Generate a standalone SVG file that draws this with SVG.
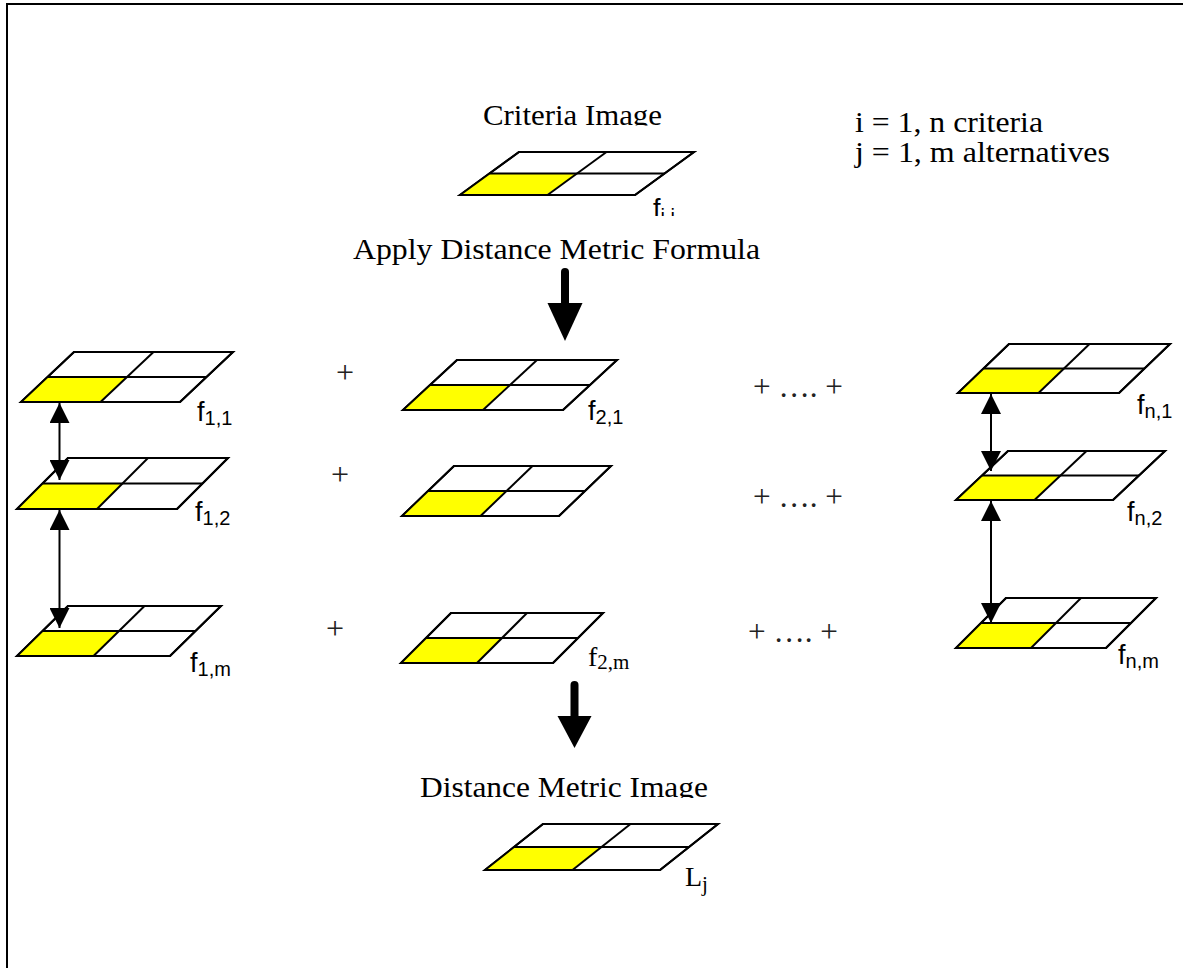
<svg xmlns="http://www.w3.org/2000/svg" width="1185" height="968" viewBox="0 0 1185 968">
  <style>
    .cell { fill: #ffffff; stroke: #000; stroke-width: 2; stroke-linejoin: miter; }
    .frame { fill: none; stroke: #000; stroke-width: 2; }
    .hl { fill: #ffff00; stroke: none; }
    .ln { stroke: #000; stroke-width: 2; fill: none; }
    .serif { font-family: "Liberation Serif", "Times New Roman", serif; font-size: 30px; fill: #000; }
    .sans { font-family: "Liberation Sans", Arial, sans-serif; font-size: 27px; fill: #000; }
    .sub { font-size: 20px; }
    .plus { font-family: "Liberation Serif", "Times New Roman", serif; font-size: 32px; fill: #222; }
    .conn { stroke: #000; stroke-width: 2; fill: none; }
    .big { stroke: #000; stroke-width: 8; stroke-linecap: round; fill: none; }
  </style>
  <defs>
    <marker id="head" viewBox="0 0 20 20" refX="20" refY="10" markerWidth="20" markerHeight="20" markerUnits="userSpaceOnUse" orient="auto-start-reverse">
      <path d="M0,0 L20,10 L0,20 Z" fill="#000"/>
    </marker>
    <clipPath id="clipCriteria"><rect x="0" y="0" width="1185" height="125.5"/></clipPath>
    <clipPath id="clipFij"><rect x="0" y="0" width="1185" height="216"/></clipPath>
    <clipPath id="clipDist"><rect x="0" y="700" width="1185" height="98"/></clipPath>
  </defs>

  <rect width="1185" height="968" fill="#ffffff"/>
  <!-- frame -->
  <path d="M7,968 V4 H1183" class="frame"/>

  <!-- legend -->
  <g id="legend">
    <text class="serif" x="855" y="132" textLength="188" lengthAdjust="spacingAndGlyphs">i = 1, n criteria</text>
    <text class="serif" x="855" y="162" textLength="255" lengthAdjust="spacingAndGlyphs">j = 1, m alternatives</text>
  </g>

  <!-- criteria image -->
  <g id="criteria">
    <text class="serif" x="483" y="125" textLength="179" lengthAdjust="spacingAndGlyphs" clip-path="url(#clipCriteria)">Criteria Image</text>
    <polygon class="cell" points="460,195 635,195 694,152 519,152"/>
    <polygon class="hl" points="461,194 547.5,194 577,173.5 489.5,173.5"/>
    <line class="ln" x1="489.5" y1="173.5" x2="664.5" y2="173.5"/>
    <line class="ln" x1="606.5" y1="152" x2="547.5" y2="195"/>
    <polygon class="cell" points="460,195 635,195 694,152 519,152" style="fill:none"/>
    <text class="sans" x="653" y="218" clip-path="url(#clipFij)">f<tspan class="sub" dy="5">i j</tspan></text>
  </g>

  <text id="apply-label" class="serif" x="353" y="259" textLength="407" lengthAdjust="spacingAndGlyphs">Apply Distance Metric Formula</text>

  <!-- column 1 -->
  <g id="f11">
    <polygon class="cell" points="21,402 180,402 233,352 74,352"/>
    <polygon class="hl" points="22,401 100.5,401 127,377 47.5,377"/>
    <line class="ln" x1="47.5" y1="377" x2="206.5" y2="377"/>
    <line class="ln" x1="153.5" y1="352" x2="100.5" y2="402"/>
    <polygon class="cell" points="21,402 180,402 233,352 74,352" style="fill:none"/>
    <text class="sans" x="197" y="421">f<tspan class="sub" dy="4">1,1</tspan></text>
  </g>
  <g id="f12">
    <polygon class="cell" points="17,509 177,509 228,458 68,458"/>
    <polygon class="hl" points="18,508 97,508 122.5,483.5 42.5,483.5"/>
    <line class="ln" x1="42.5" y1="483.5" x2="202.5" y2="483.5"/>
    <line class="ln" x1="148" y1="458" x2="97" y2="509"/>
    <polygon class="cell" points="17,509 177,509 228,458 68,458" style="fill:none"/>
    <text class="sans" x="195" y="521">f<tspan class="sub" dy="4">1,2</tspan></text>
  </g>
  <g id="f1m">
    <polygon class="cell" points="17,656 170,656 221,606 68,606"/>
    <polygon class="hl" points="18,655 93.5,655 119,631 42.5,631"/>
    <line class="ln" x1="42.5" y1="631" x2="195.5" y2="631"/>
    <line class="ln" x1="144.5" y1="606" x2="93.5" y2="656"/>
    <polygon class="cell" points="17,656 170,656 221,606 68,606" style="fill:none"/>
    <text class="sans" x="190" y="672">f<tspan class="sub" dy="4">1,m</tspan></text>
  </g>

  <!-- column 2 -->
  <g id="f21">
    <polygon class="cell" points="403,410 563,410 617,360 457,360"/>
    <polygon class="hl" points="404,409 483,409 510,385 430,385"/>
    <line class="ln" x1="430" y1="385" x2="590" y2="385"/>
    <line class="ln" x1="537" y1="360" x2="483" y2="410"/>
    <polygon class="cell" points="403,410 563,410 617,360 457,360" style="fill:none"/>
    <text class="sans" x="588" y="420">f<tspan class="sub" dy="4">2,1</tspan></text>
  </g>
  <g id="f22">
    <polygon class="cell" points="402,516 559,516 611,466 454,466"/>
    <polygon class="hl" points="403,515 480.5,515 506.5,491 428,491"/>
    <line class="ln" x1="428" y1="491" x2="585" y2="491"/>
    <line class="ln" x1="532.5" y1="466" x2="480.5" y2="516"/>
    <polygon class="cell" points="402,516 559,516 611,466 454,466" style="fill:none"/>
  </g>
  <g id="f2m">
    <polygon class="cell" points="401,663 553,663 603,613 451,613"/>
    <polygon class="hl" points="402,662 477,662 502,638 426,638"/>
    <line class="ln" x1="426" y1="638" x2="578" y2="638"/>
    <line class="ln" x1="527" y1="613" x2="477" y2="663"/>
    <polygon class="cell" points="401,663 553,663 603,613 451,613" style="fill:none"/>
    <text class="serif" x="588" y="666" style="font-size:28px">f<tspan class="sub" dy="3" style="font-size:21px">2,m</tspan></text>
  </g>

  <!-- column n -->
  <g id="fn1">
    <polygon class="cell" points="958,393 1119,393 1170,344 1009,344"/>
    <polygon class="hl" points="959,392 1038.5,392 1064,368.5 983.5,368.5"/>
    <line class="ln" x1="983.5" y1="368.5" x2="1144.5" y2="368.5"/>
    <line class="ln" x1="1089.5" y1="344" x2="1038.5" y2="393"/>
    <polygon class="cell" points="958,393 1119,393 1170,344 1009,344" style="fill:none"/>
    <text class="sans" x="1137" y="414">f<tspan class="sub" dy="4">n,1</tspan></text>
  </g>
  <g id="fn2">
    <polygon class="cell" points="956,500 1113,500 1165,451 1008,451"/>
    <polygon class="hl" points="957,499 1034.5,499 1060.5,475.5 982,475.5"/>
    <line class="ln" x1="982" y1="475.5" x2="1139" y2="475.5"/>
    <line class="ln" x1="1086.5" y1="451" x2="1034.5" y2="500"/>
    <polygon class="cell" points="956,500 1113,500 1165,451 1008,451" style="fill:none"/>
    <text class="sans" x="1127" y="521">f<tspan class="sub" dy="4">n,2</tspan></text>
  </g>
  <g id="fnm">
    <polygon class="cell" points="956,648 1106,648 1156,598 1006,598"/>
    <polygon class="hl" points="957,647 1031,647 1056,623 981,623"/>
    <line class="ln" x1="981" y1="623" x2="1131" y2="623"/>
    <line class="ln" x1="1081" y1="598" x2="1031" y2="648"/>
    <polygon class="cell" points="956,648 1106,648 1156,598 1006,598" style="fill:none"/>
    <text class="sans" x="1118" y="664">f<tspan class="sub" dy="4">n,m</tspan></text>
  </g>

  <!-- summation signs -->
  <g id="sums">
    <text class="plus" x="345" y="383" text-anchor="middle">+</text>
    <text class="plus" x="340" y="485" text-anchor="middle">+</text>
    <text class="plus" x="335" y="639" text-anchor="middle">+</text>
    <text class="plus" x="753" y="397" textLength="90" lengthAdjust="spacingAndGlyphs">+ …. +</text>
    <text class="plus" x="753" y="507" textLength="90" lengthAdjust="spacingAndGlyphs">+ …. +</text>
    <text class="plus" x="748" y="642" textLength="90" lengthAdjust="spacingAndGlyphs">+ …. +</text>
  </g>

  <!-- distance metric image -->
  <g id="distance">
    <text class="serif" x="420" y="797" textLength="288" lengthAdjust="spacingAndGlyphs" clip-path="url(#clipDist)">Distance Metric Image</text>
    <polygon class="cell" points="485,870 660,870 718,824 543,824"/>
    <polygon class="hl" points="486,869 572.5,869 601.5,847 514,847"/>
    <line class="ln" x1="514" y1="847" x2="689" y2="847"/>
    <line class="ln" x1="630.5" y1="824" x2="572.5" y2="870"/>
    <polygon class="cell" points="485,870 660,870 718,824 543,824" style="fill:none"/>
    <text class="serif" x="685" y="886" style="font-size:28px">L<tspan class="sub" dy="5" style="font-size:21px">j</tspan></text>
  </g>

  <!-- connectors -->
  <g id="connectors">
    <line class="conn" x1="59.5" y1="403" x2="59.5" y2="480" marker-start="url(#head)" marker-end="url(#head)"/>
    <line class="conn" x1="59.5" y1="510" x2="59.5" y2="628" marker-start="url(#head)" marker-end="url(#head)"/>
    <line class="conn" x1="991" y1="394" x2="991" y2="471" marker-start="url(#head)" marker-end="url(#head)"/>
    <line class="conn" x1="991" y1="501" x2="991" y2="623" marker-start="url(#head)" marker-end="url(#head)"/>
    <line class="big" x1="565" y1="272" x2="565" y2="306"/>
    <polygon points="547.5,303 582.5,303 565,341" fill="#000"/>
    <line class="big" x1="574.5" y1="685" x2="574.5" y2="719"/>
    <polygon points="557.5,716 591.5,716 574.5,748" fill="#000"/>
  </g>
</svg>
